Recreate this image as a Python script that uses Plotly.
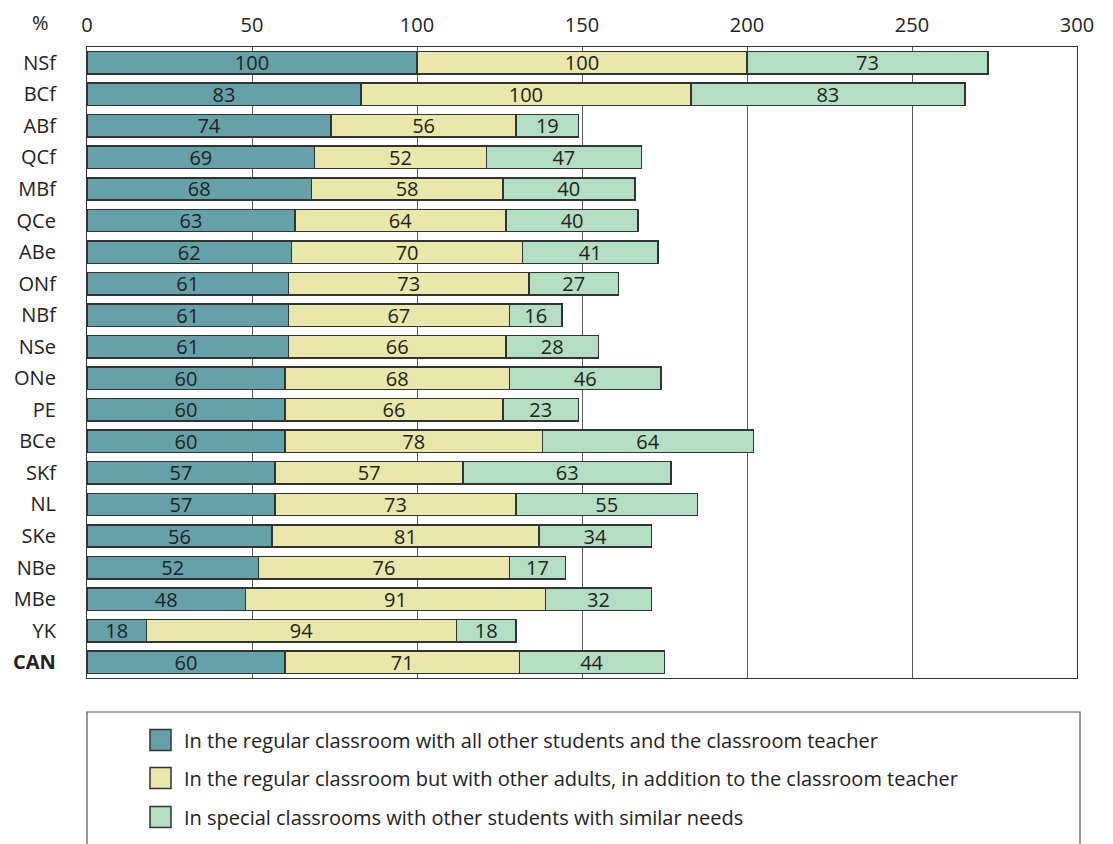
import plotly.graph_objects as go

regions = ["NSf", "BCf", "ABf", "QCf", "MBf", "QCe", "ABe", "ONf", "NBf", "NSe",
           "ONe", "PE", "BCe", "SKf", "NL", "SKe", "NBe", "MBe", "YK", "CAN"]
regular_all = [100, 83, 74, 69, 68, 63, 62, 61, 61, 61, 60, 60, 60, 57, 57, 56, 52, 48, 18, 60]
regular_adults = [100, 100, 56, 52, 58, 64, 70, 73, 67, 66, 68, 66, 78, 57, 73, 81, 76, 91, 94, 71]
special = [73, 83, 19, 47, 40, 40, 41, 27, 16, 28, 46, 23, 64, 63, 55, 34, 17, 32, 18, 44]

series_names = [
    "In the regular classroom with all other students and the classroom teacher",
    "In the regular classroom but with other adults, in addition to the classroom teacher",
    "In special classrooms with other students with similar needs",
]
series_values = [regular_all, regular_adults, special]
colors = ["#66A0A8", "#E9E7AA", "#B4DEC1"]
tick_values = [0, 50, 100, 150, 200, 250, 300]

FONT = "Open Sans"
FS = 20
OFF = 8  # default page body margin
W, H = 1113 - OFF, 844 - OFF
# plot area in page pixels
L, R, T, B = 87, 1077, 47, 678

fig = go.Figure()
for name, vals, col in zip(series_names, series_values, colors):
    fig.add_trace(go.Bar(
        y=regions, x=vals, name=name, orientation="h",
        marker=dict(color=col, line=dict(color="#333333", width=1.5)),
        text=[str(v) for v in vals], textposition="inside",
        insidetextanchor="middle", textangle=0,
        textfont=dict(family=FONT, size=FS, color="#222222"),
        width=0.71, showlegend=False,
    ))

ticktext = [f"<b>{r}</b>" if r == "CAN" else r for r in regions]

fig.update_layout(
    barmode="stack",
    width=W, height=H,
    margin=dict(l=L - OFF, r=1113 - R, t=T - OFF, b=844 - B, autoexpand=False),
    plot_bgcolor="white", paper_bgcolor="white",
    font=dict(family=FONT, size=FS, color="#222222"),
    uniformtext=dict(minsize=FS, mode="show"),
    xaxis=dict(side="top", range=[0, 300], tickvals=tick_values, automargin=False,
               showgrid=True, gridcolor="#5a5a5a", gridwidth=1.2,
               zeroline=False, showline=True, linecolor="#333333", linewidth=1.2,
               mirror=True, ticks="", ticklabelstandoff=6,
               tickfont=dict(size=FS, family=FONT, color="#222222"),
               fixedrange=True),
    yaxis=dict(categoryorder="array", categoryarray=regions, autorange="reversed",
               tickvals=regions, ticktext=ticktext, ticks="", automargin=False,
               ticklabelstandoff=26,
               showline=True, linecolor="#333333", linewidth=1.2, mirror=True,
               showgrid=False, tickfont=dict(size=FS, family=FONT, color="#222222")),
)

def px_x(px):
    return (px - L) / (R - L)

def px_y(py):
    return (B - py) / (B - T)

# % label
fig.add_annotation(text="%", xref="paper", yref="paper", x=px_x(40), y=px_y(22),
                   showarrow=False, font=dict(size=FS, family=FONT, color="#222222"),
                   xanchor="center", yanchor="middle")

# legend box
fig.add_shape(type="rect", xref="paper", yref="paper",
              x0=px_x(87), x1=px_x(1080), y0=px_y(712), y1=px_y(900),
              line=dict(color="#555555", width=1.2), fillcolor="rgba(0,0,0,0)")
row_centers = [740, 778, 817]
for name, col, cy in zip(series_names, colors, row_centers):
    fig.add_shape(type="rect", xref="paper", yref="paper",
                  x0=px_x(150), x1=px_x(171), y0=px_y(cy - 10.5), y1=px_y(cy + 10.5),
                  line=dict(color="#333333", width=1.5), fillcolor=col)
    fig.add_annotation(text=name, xref="paper", yref="paper", x=px_x(182), y=px_y(cy),
                       showarrow=False, xanchor="left", yanchor="middle",
                       font=dict(size=FS, family=FONT, color="#222222"))

fig.write_html("out.html")
